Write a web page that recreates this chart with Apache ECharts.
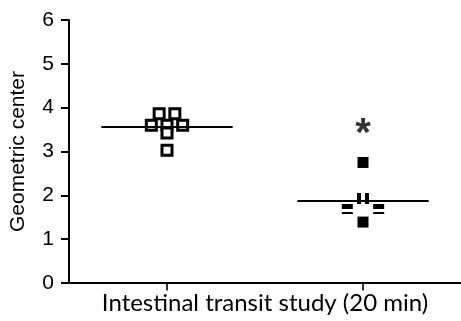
<!DOCTYPE html>
<html><head><meta charset="utf-8">
<script src="https://cdn.jsdelivr.net/npm/echarts@6/dist/echarts.min.js"></script>
<style>html,body{margin:0;padding:0;background:#fff}#c{width:461px;height:321px}</style>
</head><body><div id="c"></div>
<script>
// Data
var categories = ['Group A', 'Group B'];        // x positions 1 and 3
var categoryX = [1, 3];
var yTicks = [0, 1, 2, 3, 4, 5, 6];
var groupAOpen = [ // hollow squares [x, y]
  [0.84, 3.6], [1.0, 3.6], [1.16, 3.6],
  [0.92, 3.86], [1.08, 3.86],
  [1.0, 3.42], [1.0, 3.03]
];
var groupBFilled = [[3, 2.75], [3, 1.39]];
var groupBBars = [[3, 1.93]];           // overlapped points ("||")
var groupBDash = [[2.84, 1.69], [3.16, 1.69]]; // overlapped points ("=")
var means = [3.57, 1.88];
var meanHalfWidth = 0.67;
var sigMark = [[3, 3.6]];

var meanLines = [];
for (var i = 0; i < means.length; i++) {
  meanLines.push([{coord: [categoryX[i] - meanHalfWidth, means[i]]}, {coord: [categoryX[i] + meanHalfWidth, means[i]]}]);
}

var chart = echarts.init(document.getElementById('c'), null, {renderer: 'canvas'});
chart.setOption({
  animation: false,
  grid: {left: 69, top: 20, width: 392, bottom: 38, containLabel: false, outerBoundsMode: 'none'},
  xAxis: {
    type: 'value', min: 0, max: 4,
    name: 'Intestinal transit study (20 min)', nameLocation: 'middle', nameGap: 8,
    nameTextStyle: {fontFamily: 'Lato', fontSize: 24, color: '#000', verticalAlign: 'top'},
    axisLine: {show: true, lineStyle: {color: '#000', width: 2}},
    axisTick: {show: false},
    axisLabel: {show: false},
    splitLine: {show: false}
  },
  yAxis: {
    type: 'value', min: 0, max: 6, interval: 1,
    name: 'Geometric center', nameLocation: 'middle', nameGap: 40,
    nameTextStyle: {fontFamily: 'Liberation Sans', fontSize: 21, color: '#000'},
    axisLine: {show: true, lineStyle: {color: '#000', width: 2}},
    axisTick: {show: true, length: 8, lineStyle: {color: '#000', width: 2}},
    axisLabel: {fontFamily: 'Liberation Sans', fontSize: 21, color: '#000', margin: 15,
      formatter: function (v) { return yTicks.indexOf(v) >= 0 ? String(v) : ''; }},
    splitLine: {show: false}
  },
  series: [
    { // x category ticks
      type: 'scatter', data: categoryX.map(function (x) { return [x, 0]; }),
      symbol: 'path://M0 0 H2 V7 H0 Z', symbolSize: [2, 7], symbolOffset: [0, 4],
      itemStyle: {color: '#000'}, silent: true
    },
    {
      type: 'line', data: [], markLine: {
        symbol: 'none', silent: true, label: {show: false},
        lineStyle: {color: '#000', width: 2, type: 'solid'},
        data: meanLines
      }
    },
    {
      type: 'scatter', data: groupAOpen, symbol: 'rect', symbolSize: 10,
      itemStyle: {color: '#fff', borderColor: '#000', borderWidth: 3, opacity: 1}
    },
    {
      type: 'scatter', data: groupBFilled, symbol: 'rect', symbolSize: 11,
      itemStyle: {color: '#000', opacity: 1}
    },
    {
      type: 'scatter', data: groupBBars, symbol: 'path://M0 0 H4 V11 H0 Z M8 0 H12 V11 H8 Z',
      symbolSize: [12, 11], itemStyle: {color: '#000', opacity: 1}
    },
    {
      type: 'scatter', data: groupBDash, symbol: 'path://M0 0 H11 V5 H0 Z M0 8 H11 V10 H0 Z',
      symbolSize: [11, 10], itemStyle: {color: '#000', opacity: 1}
    },
    {
      type: 'scatter', data: sigMark, symbolSize: 1, itemStyle: {color: 'rgba(0,0,0,0)'},
      label: {show: true, position: 'inside', formatter: '*', fontFamily: 'Liberation Sans',
        fontSize: 40, fontWeight: 'bold', color: '#000', offset: [0, 10]}
    }
  ]
});
</script></body></html>
